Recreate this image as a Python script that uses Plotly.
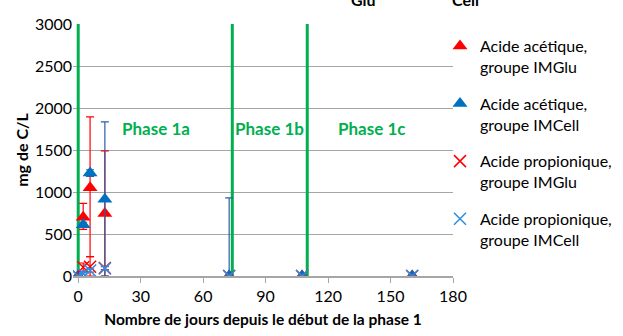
import plotly.graph_objects as go

# Sampling days (days since start of phase 1)
days = [0, 2.4, 5.7, 12.8, 72.5, 107.5, 160.4]

# Acetic acid (mg C/L)
acet_glu = [0, 700, 1050, 745, 0, 0, 0]
acet_glu_up = [0, 165, 845, 745, 0, 0, 0]
acet_glu_dn = [0, 145, 820, 745, 0, 0, 0]

acet_cell = [0, 610, 1225, 915, 0, 0, 0]
acet_cell_up = [0, 30, 40, 920, 930, 0, 0]
acet_cell_dn = [0, 30, 40, 915, 0, 0, 0]

# Propionic acid (mg C/L)
prop_glu = [0, 105, 110, 95, 0, 0, 0]
prop_glu_up = [0, 50, 120, 20, 0, 0, 0]
prop_glu_dn = [0, 50, 110, 20, 0, 0, 0]

prop_cell = [0, 30, 65, 90, 0, 0, 0]
prop_cell_up = [0, 10, 20, 20, 0, 0, 0]
prop_cell_dn = [0, 10, 20, 20, 0, 0, 0]

# Phase boundaries and labels
phase_days = [0, 74, 110]
phase_names = ["Phase 1a", "Phase 1b", "Phase 1c"]
phase_label_x = [37.5, 92, 141]
phase_label_y = 1760

y_ticks = [0, 500, 1000, 1500, 2000, 2500, 3000]
x_ticks = [0, 30, 60, 90, 120, 150, 180]

FONT = "Lato"
GREEN = "#00B050"
RED = "#FF0000"
BLUE = "#0070C0"
LBLUE = "#2E8DE0"

fig = go.Figure()

# phase boundary lines
for d in phase_days:
    fig.add_trace(go.Scatter(
        x=[d, d], y=[0, 3000], mode="lines",
        line=dict(color=GREEN, width=3),
        showlegend=False, hoverinfo="skip"))

series = [
    ("Acide acétique,<br>groupe IMGlu", acet_glu, acet_glu_up, acet_glu_dn,
     "triangle-up", RED, RED),
    ("Acide acétique,<br>groupe IMCell", acet_cell, acet_cell_up, acet_cell_dn,
     "triangle-up", BLUE, "#2F5FA8"),
    ("Acide propionique,<br>groupe IMGlu", prop_glu, prop_glu_up, prop_glu_dn,
     "x-thin-open", RED, RED),
    ("Acide propionique,<br>groupe IMCell", prop_cell, prop_cell_up, prop_cell_dn,
     "x-thin-open", LBLUE, LBLUE),
]

for i, (name, vals, up, dn, sym, col, ecol) in enumerate(series):
    if sym.startswith("triangle"):
        marker = dict(symbol=sym, size=13, color=col, line=dict(width=0))
    else:
        marker = dict(symbol=sym, size=12, color=col, line=dict(width=1.5, color=col))
    fig.add_trace(go.Scatter(
        x=days, y=vals, mode="markers", name=name, marker=marker,
        legendgroup=f"g{i}",
        error_y=dict(type="data", symmetric=False, array=up, arrayminus=dn,
                     color=ecol, thickness=1.2, width=4)))

for name, x in zip(phase_names, phase_label_x):
    fig.add_annotation(x=x, y=phase_label_y, text=name, showarrow=False,
                       font=dict(family=FONT, size=17, color=GREEN, weight="bold"))

# header fragments above the plot
for txt, xp in [("Glu", 378), ("Cell", 481)]:
    fig.add_annotation(x=(xp - 73) / 380, xref="paper", y=1, yref="paper",
                       yanchor="bottom", yshift=13, text=txt, showarrow=False,
                       font=dict(family=FONT, size=16, color="black", weight="bold"))

fig.update_layout(
    width=623, height=336,
    margin=dict(l=73, r=170, t=24, b=60, autoexpand=False),
    paper_bgcolor="white", plot_bgcolor="white",
    font=dict(family=FONT, size=16, color="black"),
    showlegend=True,
    legend=dict(x=(440 - 73) / 380, y=0.98, xanchor="left", yanchor="top",
                font=dict(family=FONT, size=16), tracegroupgap=13,
                valign="top", itemwidth=30, bgcolor="rgba(0,0,0,0)"),
    xaxis=dict(range=[-2.5, 180], tickvals=x_ticks, ticks="outside",
               ticklen=5, tickcolor="#A6A6A6", showgrid=False,
               showline=True, linecolor="#A6A6A6", linewidth=1.5,
               zeroline=False, tickfont=dict(size=16),
               title=dict(text="Nombre de jours depuis le début de la phase 1",
                          font=dict(size=15.5, weight="bold"), standoff=10)),
    yaxis=dict(range=[0, 3000], tickvals=y_ticks, showgrid=True,
               gridcolor="#A6A6A6", gridwidth=1, zeroline=False,
               showline=False, ticks="", tickfont=dict(size=16),
               title=dict(text="mg de C/L", font=dict(size=16, weight="bold"),
                          standoff=2)),
)

fig.write_html("out.html")
